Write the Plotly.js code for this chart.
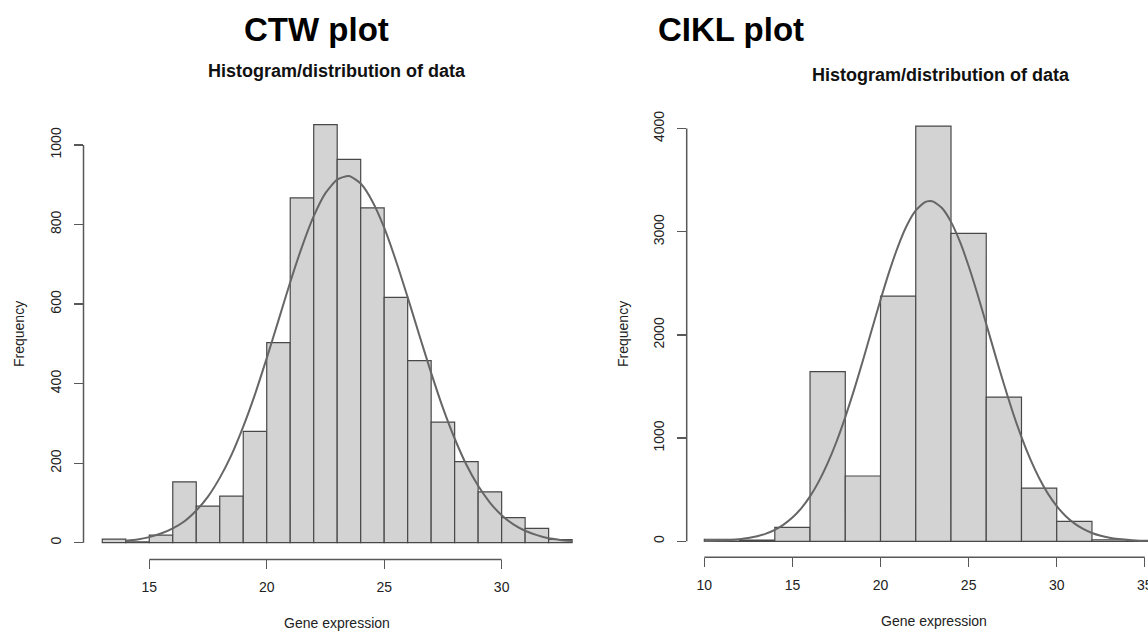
<!DOCTYPE html>
<html>
<head>
<meta charset="utf-8">
<script src="https://cdn.plot.ly/plotly-3.0.1.min.js"></script>
<style>
html,body{margin:0;padding:0;background:#fff;}
#chart{width:1148px;height:631px;}
</style>
</head>
<body>
<div id="chart"></div>
<script>
// ---- CTW data (bin width 1) ----
const ctwBinStarts = [13,14,15,16,17,18,19,20,21,22,23,24,25,26,27,28,29,30,31,32];
const ctwCounts    = [9,2,19,153,92,117,280,503,867,1051,964,842,617,458,303,204,128,63,36,8];
const ctwBinWidth  = 1;
const ctwCurveX = [14,14.5,15,15.5,16,16.5,17,17.5,18,18.5,19,19.5,20,20.5,21,21.5,22,22.5,23,23.5,24,24.5,25,25.5,26,26.5,27,27.5,28,28.5,29,29.5,30,30.5,31,31.5,32,32.5,33];
const ctwCurveY = [5,8,14,23,36,54,81,116,163,221,292,373,464,559,655,744,821,879,913,922,903,858,792,709,617,521,427,339,262,196,143,101,69,46,30,19,11,7,4];
const ctwXTicks = [15,20,25,30];
const ctwYTicks = [0,200,400,600,800,1000];

// ---- CIKL data (bin width 2) ----
const ciklBinStarts = [10,12,14,16,18,20,22,24,26,28,30,32,34];
const ciklCounts    = [20,12,135,1645,633,2377,4025,2985,1398,516,194,15,5];
const ciklBinWidth  = 2;
const ciklCurveX = [10,10.5,11,11.5,12,12.5,13,13.5,14,14.5,15,15.5,16,16.5,17,17.5,18,18.5,19,19.5,20,20.5,21,21.5,22,22.5,22.8,23,23.5,24,24.5,25,25.5,26,26.5,27,27.5,28,28.5,29,29.5,30,30.5,31,31.5,32,32.5,33,33.5,34,34.5,35,35.5,36];
const ciklCurveY = [3,4,8,12,20,32,49,75,111,162,230,320,436,581,757,965,1204,1468,1753,2048,2340,2616,2862,3063,3207,3285,3298,3292,3228,3096,2906,2668,2397,2107,1812,1524,1254,1010,796,613,462,341,246,174,120,81,54,35,22,14,8,5,3,2];
const ciklXTicks = [10,15,20,25,30,35];
const ciklYTicks = [0,1000,2000,3000,4000];

const W = 1148, H = 631;
const px = v => v / W;
const py = v => 1 - v / H;

const barFill = '#d3d3d3', barLine = '#484848', curveCol = '#666666', axisCol = '#585858';
const font = 'Liberation Sans, Arial, Helvetica, sans-serif';

const traces = [
  {type:'bar', x: ctwBinStarts, y: ctwCounts, width: ctwBinStarts.map(()=>ctwBinWidth), offset: 0,
   marker:{color:barFill, line:{color:barLine, width:1.2}}, xaxis:'x', yaxis:'y', hoverinfo:'x+y'},
  {type:'scatter', mode:'lines', x: ctwCurveX, y: ctwCurveY, line:{color:curveCol, width:2, shape:'spline', smoothing:0.6},
   xaxis:'x', yaxis:'y'},
  {type:'bar', x: ciklBinStarts, y: ciklCounts, width: ciklBinStarts.map(()=>ciklBinWidth), offset: 0,
   marker:{color:barFill, line:{color:barLine, width:1.2}}, xaxis:'x2', yaxis:'y2', hoverinfo:'x+y'},
  {type:'scatter', mode:'lines', x: ciklCurveX, y: ciklCurveY, line:{color:curveCol, width:2, shape:'spline', smoothing:0.6},
   xaxis:'x2', yaxis:'y2'}
];

const axisCommon = {
  showgrid:false, zeroline:false, showline:false,
  ticks:'outside', ticklen:9, tickwidth:1.3, tickcolor:axisCol,
  tickfont:{family:font, size:14, color:'#222'}, fixedrange:true
};

const layout = {
  width:W, height:H, margin:{l:0,r:0,t:0,b:0},
  paper_bgcolor:'#fff', plot_bgcolor:'#fff', showlegend:false, bargap:0,
  font:{family:font, color:'#222'},
  xaxis: Object.assign({}, axisCommon, {domain:[px(83.5), px(590.9)], range:[12.2,33.8],
          tickmode:'array', tickvals: ctwXTicks, anchor:'y', ticklabelstandoff:6}),
  yaxis: Object.assign({}, axisCommon, {domain:[py(559.4), py(108.4)], range:[-42,1092],
          tickmode:'array', tickvals: ctwYTicks, tickangle:-90, anchor:'x', ticklabelstandoff:7}),
  xaxis2: Object.assign({}, axisCommon, {domain:[px(686.7), 1], range:[9.0,35.18],
          tickmode:'array', tickvals: ciklXTicks, anchor:'y2', ticklabelstandoff:6, ticklabeloverflow:'allow'}),
  yaxis2: Object.assign({}, axisCommon, {domain:[py(557.3), py(108.4)], range:[-155,4196],
          tickmode:'array', tickvals: ciklYTicks, tickangle:-90, anchor:'x2', ticklabelstandoff:7}),
  shapes: [
    {type:'line', xref:'x', yref:'y domain', x0:ctwXTicks[0], x1:ctwXTicks[ctwXTicks.length-1], y0:0, y1:0, line:{color:axisCol, width:1.5}},
    {type:'line', xref:'x domain', yref:'y', x0:0, x1:0, y0:ctwYTicks[0], y1:ctwYTicks[ctwYTicks.length-1], line:{color:axisCol, width:1.5}},
    {type:'line', xref:'x2', yref:'y2 domain', x0:ciklXTicks[0], x1:ciklXTicks[ciklXTicks.length-1], y0:0, y1:0, line:{color:axisCol, width:1.5}},
    {type:'line', xref:'x2 domain', yref:'y2', x0:0, x1:0, y0:ciklYTicks[0], y1:ciklYTicks[ciklYTicks.length-1], line:{color:axisCol, width:1.5}}
  ],
  annotations: [
    {text:'<b>CTW plot</b>', xref:'paper', yref:'paper', x:px(242), y:py(30), showarrow:false, xanchor:'left', yanchor:'middle', font:{family:font, size:33, color:'#000'}},
    {text:'<b>CIKL plot</b>', xref:'paper', yref:'paper', x:px(656), y:py(30), showarrow:false, xanchor:'left', yanchor:'middle', font:{family:font, size:33, color:'#000'}},
    {text:'<b>Histogram/distribution of data</b>', xref:'paper', yref:'paper', x:px(337), y:py(71), showarrow:false, xanchor:'center', yanchor:'middle', font:{family:font, size:18, color:'#111'}},
    {text:'<b>Histogram/distribution of data</b>', xref:'paper', yref:'paper', x:px(941), y:py(75), showarrow:false, xanchor:'center', yanchor:'middle', font:{family:font, size:18, color:'#111'}},
    {text:'Gene expression', xref:'paper', yref:'paper', x:px(337), y:py(623), showarrow:false, xanchor:'center', yanchor:'middle', font:{family:font, size:14, color:'#222'}},
    {text:'Gene expression', xref:'paper', yref:'paper', x:px(934), y:py(621), showarrow:false, xanchor:'center', yanchor:'middle', font:{family:font, size:14, color:'#222'}},
    {text:'Frequency', xref:'paper', yref:'paper', x:px(19), y:py(334), showarrow:false, textangle:-90, xanchor:'center', yanchor:'middle', font:{family:font, size:14, color:'#222'}},
    {text:'Frequency', xref:'paper', yref:'paper', x:px(623), y:py(334), showarrow:false, textangle:-90, xanchor:'center', yanchor:'middle', font:{family:font, size:14, color:'#222'}}
  ]
};

Plotly.newPlot('chart', traces, layout, {displayModeBar:false, staticPlot:true});
</script>
</body>
</html>
